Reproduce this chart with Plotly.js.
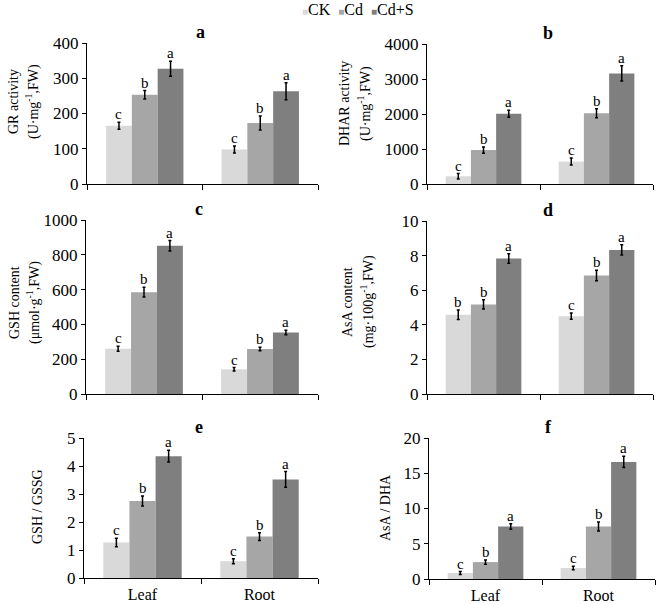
<!DOCTYPE html>
<html>
<head>
<meta charset="utf-8">
<script src="https://cdn.plot.ly/plotly-3.0.1.min.js"></script>
<style>
  html, body { margin: 0; padding: 0; background: #fff; }
  #chart { width: 658px; height: 604px; }
</style>
</head>
<body>
<div id="chart"></div>
<script>
// categories and treatments
var organs = ["Leaf", "Root"];
var treatments = ["CK", "Cd", "Cd+S"];
var barColors = ["#d9d9d9", "#a6a6a6", "#7f7f7f"];

// each row is one treatment (CK, Cd, Cd+S), values for [Leaf, Root]
var grMean = [[165, 98], [253, 173], [327, 263]];
var grErr = [[10, 10], [12, 20], [21, 24]];
var grSig = [["c", "c"], ["b", "b"], ["a", "a"]];

var dharMean = [[220, 640], [970, 2020], [2010, 3160]];
var dharErr = [[80, 100], [90, 130], [100, 220]];
var dharSig = [["c", "c"], ["b", "b"], ["a", "a"]];

var gshMean = [[260, 142], [585, 258], [852, 353]];
var gshErr = [[15, 10], [28, 10], [30, 13]];
var gshSig = [["c", "c"], ["b", "b"], ["a", "a"]];

var asaMean = [[4.58, 4.5], [5.18, 6.85], [7.83, 8.33]];
var asaErr = [[0.28, 0.18], [0.27, 0.3], [0.27, 0.3]];
var asaSig = [["b", "c"], ["b", "b"], ["a", "a"]];

var gssgMean = [[1.27, 0.6], [2.75, 1.48], [4.35, 3.52]];
var gssgErr = [[0.15, 0.09], [0.18, 0.14], [0.21, 0.28]];
var gssgSig = [["c", "c"], ["b", "b"], ["a", "a"]];

var dhaMean = [[0.85, 1.55], [2.4, 7.45], [7.45, 16.6]];
var dhaErr = [[0.2, 0.25], [0.3, 0.65], [0.4, 0.8]];
var dhaSig = [["c", "c"], ["b", "b"], ["a", "a"]];

var W = 658, H = 604;
var serif = "Liberation Serif, Times New Roman, serif";
var barGap = 0.33;

// panel boxes in pixels: [left, right, top, bottom]
var panels = [
    { tag: "a", mean: grMean, err: grErr, sig: grSig, max: 400, dtick: 100,
      box: [87, 318, 43, 184], tagX: 200, title: ["GR activity", "(U·mg<sup>-1</sup>,FW)"], tx: [14, 33], ty: 102 },
    { tag: "b", mean: dharMean, err: dharErr, sig: dharSig, max: 4000, dtick: 1000,
      box: [427, 653, 44, 184], tagX: 548, title: ["DHAR activity", "(U·mg<sup>-1</sup>,FW)"], tx: [344, 364], ty: 104 },
    { tag: "c", mean: gshMean, err: gshErr, sig: gshSig, max: 1000, dtick: 200,
      box: [86, 318, 220, 394], tagX: 199, title: ["GSH content", "(μmol·g<sup>-1</sup>,FW)"], tx: [14, 33], ty: 303 },
    { tag: "d", mean: asaMean, err: asaErr, sig: asaSig, max: 10, dtick: 2,
      box: [427, 653, 221, 394], tagX: 548, title: ["AsA content", "(mg·100g<sup>-1</sup>,FW)"], tx: [347, 367], ty: 302 },
    { tag: "e", mean: gssgMean, err: gssgErr, sig: gssgSig, max: 5, dtick: 1,
      box: [84, 318, 438, 578], tagX: 199, title: ["GSH / GSSG"], tx: [37], ty: 507 },
    { tag: "f", mean: dhaMean, err: dhaErr, sig: dhaSig, max: 20, dtick: 5,
      box: [429, 655, 438, 579], tagX: 548, title: ["AsA / DHA"], tx: [385], ty: 508 }
];

var traces = [];
var annotations = [];
var layout = {
    width: W, height: H,
    margin: { l: 0, r: 0, t: 0, b: 0 },
    paper_bgcolor: "#fff",
    plot_bgcolor: "#fff",
    font: { family: serif, size: 15, color: "#000" },
    barmode: "group",
    bargap: barGap,
    bargroupgap: 0,
    showlegend: false
};

panels.forEach(function (p, k) {
    var n = k + 1;
    var xa = "x" + (n === 1 ? "" : n), ya = "y" + (n === 1 ? "" : n);
    var bottomRow = k >= 4;

    layout["xaxis" + (n === 1 ? "" : n)] = {
        domain: [p.box[0] / W, p.box[1] / W],
        anchor: ya,
        type: "category",
        categoryorder: "array", categoryarray: organs,
        range: [-0.5, 1.5],
        showline: true, linecolor: "#000", linewidth: 1,
        ticks: "outside", tickson: "boundaries", ticklen: 5, tickcolor: "#000",
        showticklabels: bottomRow,
        ticklabelstandoff: 2,
        tickfont: { family: serif, size: 16, color: "#000" },
        showgrid: false, zeroline: false, fixedrange: true
    };
    layout["yaxis" + (n === 1 ? "" : n)] = {
        domain: [1 - p.box[3] / H, 1 - p.box[2] / H],
        anchor: xa,
        range: [0, p.max], dtick: p.dtick, tick0: 0,
        showline: true, linecolor: "#000", linewidth: 1,
        ticks: "outside", ticklen: 4, tickcolor: "#000",
        tickfont: { family: serif, size: 17, color: "#000" },
        showgrid: false, zeroline: false, fixedrange: true
    };

    // bars with error bars
    treatments.forEach(function (t, i) {
        traces.push({
            type: "bar",
            name: t,
            x: organs,
            y: p.mean[i],
            xaxis: xa, yaxis: ya,
            marker: { color: barColors[i], line: { width: 0 } },
            error_y: { type: "data", array: p.err[i], visible: true,
                       color: "#000", thickness: 1.5, width: 1.5 },
            hoverinfo: "skip"
        });
    });

    // significance letters above each error bar
    var catPx = (p.box[1] - p.box[0]) / 2;
    var barPx = catPx * (1 - barGap) / treatments.length;
    treatments.forEach(function (t, i) {
        organs.forEach(function (o, j) {
            annotations.push({
                xref: xa, yref: ya,
                x: o, y: p.mean[i][j] + p.err[i][j],
                text: p.sig[i][j],
                showarrow: false,
                xanchor: "center", yanchor: "bottom",
                xshift: (i - 1) * barPx, yshift: -2,
                font: { family: serif, size: 15, color: "#000" }
            });
        });
    });

    // panel tag
    annotations.push({
        xref: "paper", yref: "paper",
        x: p.tagX / W, y: 1 - (p.box[2] - 11) / H,
        text: "<b>" + p.tag + "</b>",
        showarrow: false, xanchor: "center", yanchor: "middle",
        font: { family: serif, size: 18, color: "#000" }
    });

    // y-axis title lines
    p.title.forEach(function (line, m) {
        annotations.push({
            xref: "paper", yref: "paper",
            x: p.tx[m] / W, y: 1 - p.ty / H,
            text: line,
            textangle: -90,
            showarrow: false, xanchor: "center", yanchor: "middle",
            font: { family: serif, size: 14, color: "#000" }
        });
    });
});

// legend row at the top, built from the treatment names and colours
var legendText = treatments.map(function (t, i) {
    return "<span style=\"color:" + barColors[i] + ";font-size:10px\">■</span>" + t;
}).join("  ");
annotations.push({
    xref: "paper", yref: "paper",
    x: 358 / W, y: 1 - 9 / H,
    text: legendText,
    showarrow: false, xanchor: "center", yanchor: "middle",
    font: { family: serif, size: 16, color: "#000" }
});

layout.annotations = annotations;

Plotly.newPlot("chart", traces, layout, { displayModeBar: false, staticPlot: true });
</script>
</body>
</html>
